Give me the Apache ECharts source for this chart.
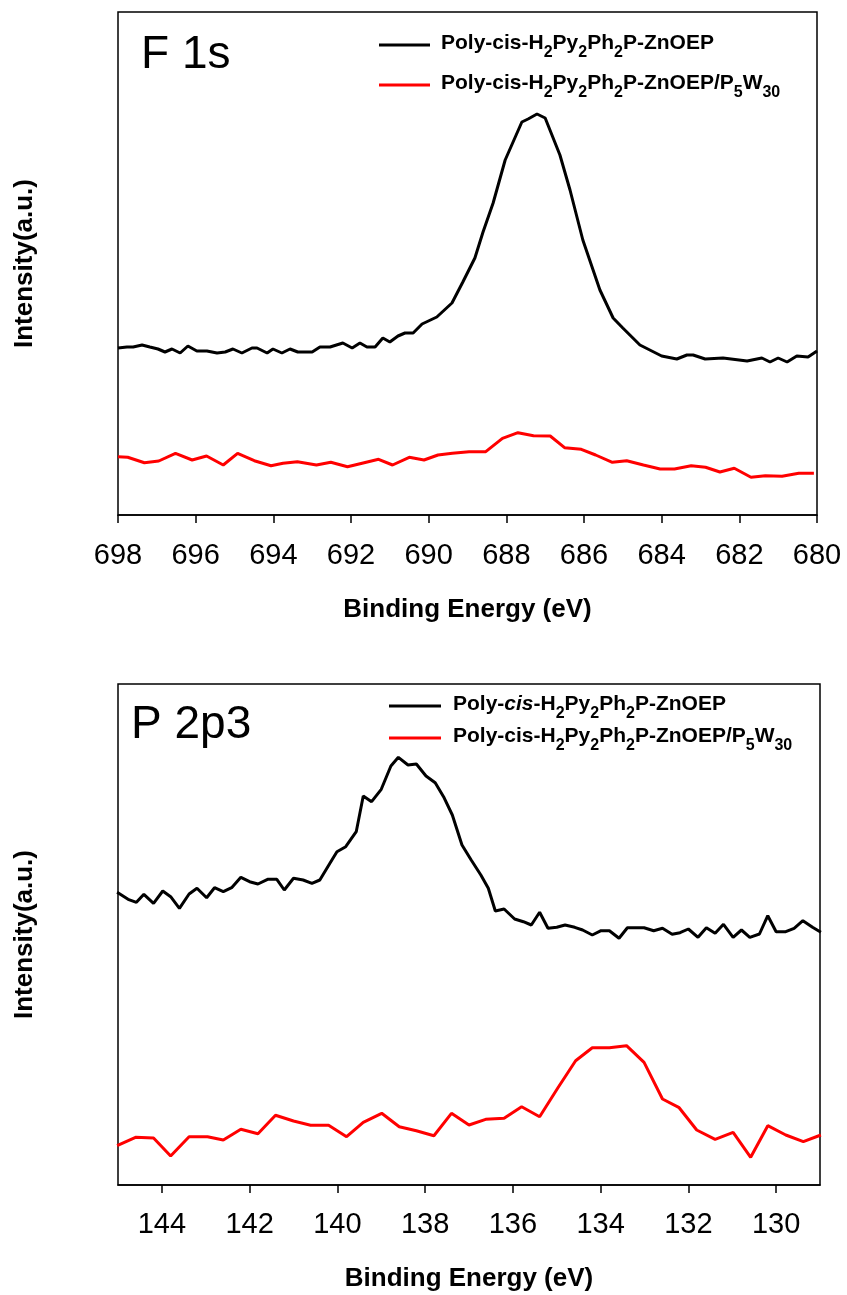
<!DOCTYPE html>
<html>
<head>
<meta charset="utf-8">
<script src="https://cdn.jsdelivr.net/npm/echarts@6/dist/echarts.min.js"></script>
<style>
html,body{margin:0;padding:0;background:#fff;}
#chart{width:847px;height:1295px;}
</style>
</head>
<body>
<div id="chart"></div>
<script>
// ---------- data (binding energy eV, intensity a.u.) ----------
const f1sBlack = [
[698.00,167],[697.77,168],[697.61,168],[697.38,170],[697.18,168],[696.97,166],[696.79,163],[696.61,166],
[696.40,162],[696.20,169],[695.97,164],[695.71,164],[695.45,162],[695.24,163],[695.04,166],[694.81,162],
[694.55,167],[694.42,167],[694.16,162],[694.01,166],[693.78,162],[693.57,166],[693.37,163],[693.00,163],
[692.80,168],[692.54,168],[692.21,172],[691.97,167],[691.77,172],[691.59,168],[691.38,168],[691.18,177],
[691.00,173],[690.79,179],[690.61,182],[690.40,182],[690.17,191],[689.79,198],[689.40,212],[689.12,233],
[688.81,257],[688.60,283],[688.34,312],[688.03,355],[687.60,393],[687.44,396],[687.21,401],[687.00,397],
[686.62,360],[686.36,325],[686.03,275],[685.59,225],[685.25,197],[685.00,187],[684.56,170],[684.00,159],
[683.61,156],[683.35,160],[683.19,160],[682.88,156],[682.42,157],[681.80,154],[681.42,157],[681.21,153],
[681.00,157],[680.77,153],[680.52,159],[680.23,158],[680.00,164]
];
const f1sRed = [
[698.00,58.3],[697.75,57.7],[697.32,52.3],[696.95,54],[696.52,61.7],[696.09,55],[695.72,59],[695.29,50],
[694.92,61.7],[694.49,54.3],[694.06,49.3],[693.75,51.7],[693.38,53.3],[692.89,50],[692.52,52.7],[692.09,48.3],
[691.66,52.3],[691.29,55.7],[690.93,50],[690.50,57.7],[690.12,55],[689.76,60],[689.39,61.7],[688.96,63.3],
[688.53,63.3],[688.10,76.7],[687.70,82.3],[687.30,79.3],[686.87,79],[686.50,67.3],[686.07,65.7],[685.70,60],
[685.27,52.7],[684.90,54.3],[684.47,50],[684.04,46],[683.67,46],[683.24,49.3],[682.87,47.7],[682.50,43],
[682.13,46.7],[681.70,37.7],[681.33,39.3],[680.90,38.7],[680.47,41.7],[680.08,41.7]
];
const p2pBlack = [
[145.02,292.7],[144.77,285.7],[144.58,282.7],[144.41,290.7],[144.19,281.7],[143.98,294],[143.80,288.3],[143.60,276.7],
[143.38,291],[143.20,296.7],[142.98,287.3],[142.80,297.3],[142.60,293.3],[142.41,297.3],[142.20,307.7],[142.00,303.3],
[141.81,301],[141.59,305.7],[141.38,305.7],[141.21,295],[141.00,306.7],[140.78,305],[140.58,301.7],[140.40,305],
[140.17,321.7],[140.01,333.3],[139.81,338.3],[139.57,353.3],[139.41,389],[139.22,383.3],[139.00,395.7],[138.78,419],
[138.61,427.7],[138.39,420],[138.20,421],[137.98,409],[137.77,402.3],[137.58,388.3],[137.38,370],[137.16,340],
[136.95,325],[136.73,310],[136.56,296.7],[136.40,274],[136.20,276],[135.96,266],[135.76,263.3],[135.58,260],
[135.39,272.7],[135.20,256.7],[135.00,257.7],[134.81,260],[134.59,257.7],[134.41,255],[134.19,250],[133.99,254.3],
[133.80,254.3],[133.58,246.7],[133.39,257.3],[133.01,257.3],[132.79,254.3],[132.59,256.7],[132.37,250.7],[132.19,252.3],
[132.00,256],[131.78,247.7],[131.59,257.3],[131.39,251.7],[131.20,260.7],[130.98,247.7],[130.79,255],[130.60,247.7],
[130.38,251],[130.19,269.3],[130.00,253.3],[129.78,253.3],[129.59,256.7],[129.39,264.3],[129.17,257.7],[128.98,252.7]
];
const p2pRed = [
[145.02,39.3],[144.60,47.7],[144.19,47],[143.80,29],[143.38,48.3],[142.96,48.3],[142.60,45],[142.20,55.7],
[141.81,51.3],[141.41,69.7],[141.00,64],[140.61,59.7],[140.20,59.7],[139.79,48.3],[139.41,62.7],[138.99,71.7],
[138.59,58.3],[138.20,54.3],[137.80,49.3],[137.40,71.7],[137.00,60],[136.62,65.7],[136.20,66.7],[135.80,78.3],
[135.39,68.3],[134.98,96.7],[134.57,124.3],[134.19,137.3],[133.80,137.3],[133.41,139.3],[133.01,122.7],[132.59,86],
[132.21,77.3],[131.81,55],[131.39,45.7],[130.98,52.7],[130.58,27.7],[130.19,59.3],[129.78,50],[129.38,43.3],[128.98,50]
];
const p2pTicks = [130,132,134,136,138,140,142,144];
const seriesNames = ['Poly-cis-H2Py2Ph2P-ZnOEP','Poly-cis-H2Py2Ph2P-ZnOEP/P5W30'];
const panelLabels = ['F 1s','P 2p3'];
const xTitle = 'Binding Energy (eV)';
const yTitle = 'Intensity(a.u.)';

// ---------- rich legend text ----------
const legendTop = {};
legendTop[seriesNames[0]] = '{n|Poly-cis-H}{s|2}{n|Py}{s|2}{n|Ph}{s|2}{n|P-ZnOEP}';
legendTop[seriesNames[1]] = '{n|Poly-cis-H}{s|2}{n|Py}{s|2}{n|Ph}{s|2}{n|P-ZnOEP/P}{s|5}{n|W}{s|30}';
const legendBot = {};
legendBot[seriesNames[0]] = '{n|Poly-}{i|cis}{n|-H}{s|2}{n|Py}{s|2}{n|Ph}{s|2}{n|P-ZnOEP}';
legendBot[seriesNames[1]] = legendTop[seriesNames[1]];

const FF = '"Liberation Sans", Arial, sans-serif';
const rich = {
  n: {fontFamily: FF, fontSize: 21, fontWeight: 'bold', color: '#000', lineHeight: 24, verticalAlign: 'top'},
  i: {fontFamily: FF, fontSize: 21, fontWeight: 'bold', fontStyle: 'italic', color: '#000', lineHeight: 24, verticalAlign: 'top'},
  s: {fontFamily: FF, fontSize: 16, fontWeight: 'bold', color: '#000', lineHeight: 15, padding: [12,0,0,0], verticalAlign: 'top'}
};

function xAxisBase(idx) {
  return {
    type: 'value', gridIndex: idx, inverse: true,
    name: xTitle, nameLocation: 'middle', nameGap: 82,
    nameTextStyle: {fontFamily: FF, fontSize: 26, fontWeight: 'bold', color: '#000'},
    axisLine: {show: true, onZero: false, lineStyle: {color: '#000', width: 1.5}},
    axisTick: {show: true, inside: false, length: 8, lineStyle: {color: '#000', width: 1.5}},
    axisLabel: {show: true, margin: 26, fontFamily: FF, fontSize: 29, color: '#000'},
    splitLine: {show: false}
  };
}
function yAxisBase(idx, max) {
  return {
    type: 'value', gridIndex: idx, min: 0, max: max,
    name: yTitle, nameLocation: 'middle', nameGap: 80, nameRotate: 90,
    nameTextStyle: {fontFamily: FF, fontSize: 26, fontWeight: 'bold', color: '#000'},
    axisLine: {show: false}, axisTick: {show: false}, axisLabel: {show: false}, splitLine: {show: false}
  };
}

const x0 = xAxisBase(0); x0.min = 680; x0.max = 698; x0.interval = 2;
const x1 = xAxisBase(1); x1.min = 129; x1.max = 145; x1.nameGap = 81;
x1.axisTick.customValues = p2pTicks;
x1.axisLabel.customValues = p2pTicks;
x1.axisLabel.margin = 25;

function lineSeries(name, data, idx, color) {
  return {
    type: 'line', name: name, data: data, xAxisIndex: idx, yAxisIndex: idx,
    showSymbol: false, symbol: 'none', smooth: false,
    lineStyle: {color: color, width: 3}, itemStyle: {color: color}
  };
}

const option = {
  animation: false,
  backgroundColor: '#fff',
  title: [
    {text: panelLabels[0], left: 141, top: 32, padding: 0, textStyle: {fontFamily: FF, fontSize: 46, fontWeight: 'normal', color: '#000'}},
    {text: panelLabels[1], left: 131, top: 702, padding: 0, textStyle: {fontFamily: FF, fontSize: 46, fontWeight: 'normal', color: '#000'}}
  ],
  legend: [
    {orient: 'vertical', left: 379, top: 33, padding: 0, itemWidth: 51, itemHeight: 3, itemGap: 12, icon: 'rect',
     selectedMode: false, data: seriesNames.slice(),
     formatter: function (n) { return legendTop[n]; },
     textStyle: {padding: [0,0,0,6], rich: rich}},
    {orient: 'vertical', left: 389, top: 694, padding: 0, itemWidth: 52, itemHeight: 3, itemGap: 4, icon: 'rect',
     selectedMode: false, data: seriesNames.slice(),
     formatter: function (n) { return legendBot[n]; },
     textStyle: {padding: [0,0,0,7], rich: rich}}
  ],
  grid: [
    {left: 118, top: 12, width: 699, height: 503, show: true, borderColor: '#000', borderWidth: 1.5, backgroundColor: 'transparent'},
    {left: 118, top: 684, width: 702, height: 501, show: true, borderColor: '#000', borderWidth: 1.5, backgroundColor: 'transparent'}
  ],
  xAxis: [x0, x1],
  yAxis: [yAxisBase(0, 503), yAxisBase(1, 501)],
  series: [
    lineSeries(seriesNames[0], f1sBlack, 0, '#000000'),
    lineSeries(seriesNames[1], f1sRed, 0, '#ff0000'),
    lineSeries(seriesNames[0], p2pBlack, 1, '#000000'),
    lineSeries(seriesNames[1], p2pRed, 1, '#ff0000')
  ]
};

const chart = echarts.init(document.getElementById('chart'), null, {renderer: 'canvas'});
chart.setOption(option);
</script>
</body>
</html>
